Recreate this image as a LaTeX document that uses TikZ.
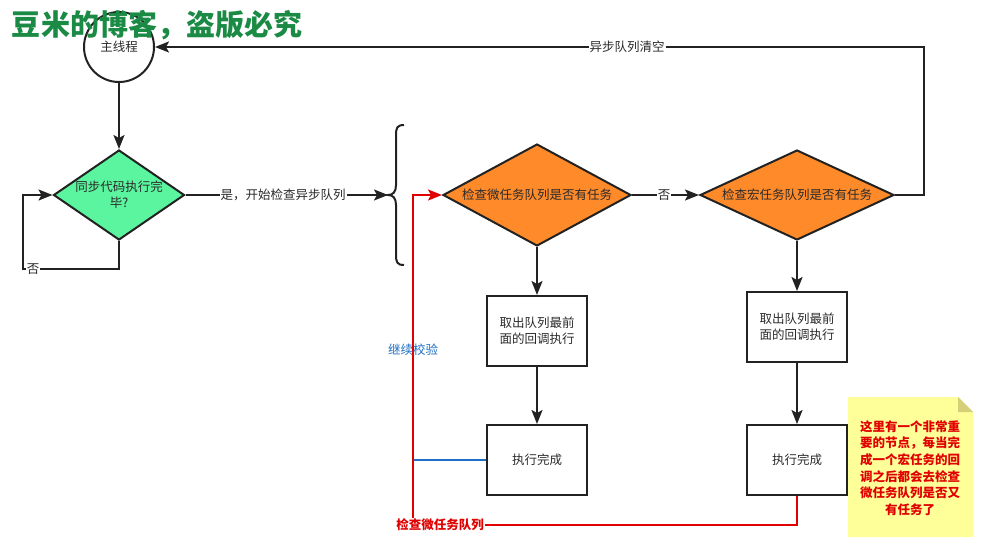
\documentclass[tikz,border=0pt]{standalone}
\usepackage{fontspec}
\setmainfont{Noto Sans CJK SC}
\usetikzlibrary{shapes.geometric,arrows.meta}
\definecolor{ln}{HTML}{222222}
\definecolor{tx}{HTML}{2A2A2A}
\definecolor{mint}{HTML}{5AF59E}
\definecolor{orng}{HTML}{FF8A2A}
\definecolor{rd}{HTML}{E00000}
\definecolor{bl}{HTML}{1F6FC6}
\definecolor{ttl}{HTML}{1A8A45}
\definecolor{notey}{HTML}{FFFF99}
\definecolor{notef}{HTML}{D6CF7A}
\tikzset{
  base/.style={font=\fontsize{12.5}{16}\selectfont, text=tx},
  lk/.style={draw=ln, line width=2pt},
  arr/.style={-{Stealth[length=14pt,width=11pt,inset=3pt]}},
  dia/.style={shape=diamond, draw=ln, line width=2pt, inner sep=0pt},
  bx/.style={draw=ln, line width=2pt, minimum width=100pt, minimum height=70pt, align=center, base},
  lbl/.style={base, fill=white, inner sep=1pt},
}
\begin{document}
\begin{tikzpicture}[x=1pt,y=-1pt]
\useasboundingbox (0,0) rectangle (981,550);
% main thread circle
\node[circle, draw=ln, line width=2pt, minimum size=70pt, inner sep=0pt, base] (c) at (119,47) {主线程};
% green diamond
\node[dia, fill=mint, minimum width=131pt, minimum height=90pt] (d0) at (119,195) {};
\node[base, align=center] (d0t) at (119,195) {同步代码执行完\\毕?};
% orange diamonds
\node[dia, fill=orng, minimum width=188pt, minimum height=102pt] (d1) at (537,195) {};
\node[base] (d1t) at (537,195) {检查微任务队列是否有任务};
\node[dia, fill=orng, minimum width=194pt, minimum height=90pt] (d2) at (797,195) {};
\node[base] (d2t) at (797,195) {检查宏任务队列是否有任务};
% boxes
\node[bx] (b1) at (537,331) {取出队列最前\\面的回调执行};
\node[bx] (b2) at (537,460) {执行完成};
\node[bx] (b3) at (797,327) {取出队列最前\\面的回调执行};
\node[bx] (b4) at (797,460) {执行完成};
% brace
\coordinate (br) at (388,195);
\draw[lk] (404,125) .. controls (397,125) and (396,128) .. (396,135) -- (396,185) .. controls (396,192) and (393,195) .. (br) .. controls (393,195) and (396,198) .. (396,205) -- (396,255) .. controls (396,262) and (397,265) .. (404,265);
% coordinates
\coordinate (lp) at (23,269);
\coordinate (rt) at (924,47);
\coordinate (rc) at (413,525);
% connectors
\draw[lk, arr] (c.south) -- (d0.north);
\draw[lk, arr] (d0.south) |- (lp) |- (d0.west);
\node[lbl] (no0) at (33,269) {否};
\draw[lk, arr] (d0.east) -- (br);
\node[lbl] (yes) at (283,195) {是，开始检查异步队列};
\draw[lk, arr] (d1.east) -- (d2.west);
\node[lbl] (no1) at (664,195) {否};
\draw[lk, arr] (d2.east) -| (rt) -- (c.east);
\node[lbl] (clr) at (627,47) {异步队列清空};
\draw[lk, arr] (d1.south) -- (b1.north);
\draw[lk, arr] (b1.south) -- (b2.north);
\draw[lk, arr] (d2.south) -- (b3.north);
\draw[lk, arr] (b3.south) -- (b4.north);
% red and blue
\draw[draw=bl, line width=2pt] (b2.west) -- (b2.west -| rc);
\draw[draw=rd, line width=2pt, arr] (b4.south) |- (rc) |- (d1.west);
\node[base, text=bl] (cont) at (413,350) {继续校验};
\node[base, text=rd, fill=white, inner sep=1pt, font=\fontsize{12.5}{16}\selectfont\bfseries] (chk) at (440,525) {检查微任务队列};
% note
\fill[notey] (848,397) -- (958,397) -- (973,412) -- (973,537) -- (848,537) -- cycle;
\fill[notef] (958,397) -- (973,412) -- (958,412) -- cycle;
\node[text=rd, align=center, font=\fontsize{12.5}{16.6}\selectfont\bfseries] (note) at (910,468) {这里有一个非常重\\要的节点，每当完\\成一个宏任务的回\\调之后都会去检查\\微任务队列是否又\\有任务了};
% title
\node[text=ttl, font=\fontsize{29}{32}\selectfont\bfseries, inner sep=0pt] (title) at (157,25) {豆米的博客，盗版必究};
\end{tikzpicture}
\end{document}
